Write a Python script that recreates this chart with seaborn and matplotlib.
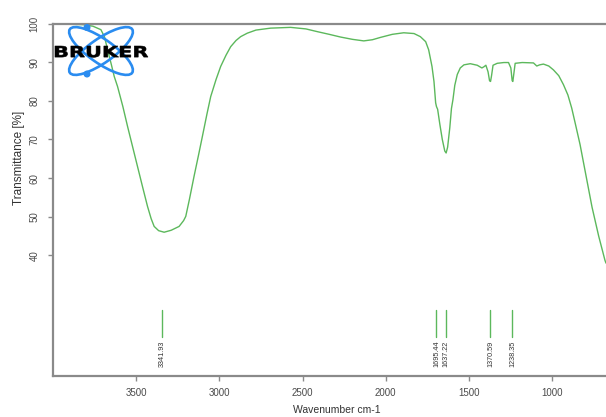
import numpy as np
import pandas as pd
import seaborn as sns
import matplotlib
matplotlib.use("Agg")
import matplotlib.pyplot as plt
from matplotlib.patches import Ellipse, Circle, PathPatch
from matplotlib.transforms import IdentityTransform, Affine2D
from matplotlib.textpath import TextPath
from matplotlib.font_manager import FontProperties

# ---- data ----
wavenumber = [4000, 3900, 3820, 3760, 3712, 3690, 3672, 3650, 3632, 3612, 3580, 3552,
              3522, 3492, 3462, 3432, 3410, 3392, 3365, 3332, 3290, 3242, 3215, 3202,
              3180, 3152, 3125, 3102, 3075, 3052, 3020, 2992, 2960, 2932, 2900, 2872,
              2832, 2780, 2692, 2572, 2480, 2412, 2340, 2272, 2200, 2132, 2080, 2032,
              1960, 1892, 1830, 1792, 1760, 1742, 1722, 1710, 1700, 1695, 1688, 1675,
              1660, 1645, 1637, 1628, 1615, 1605, 1596, 1585, 1570, 1552, 1530, 1492,
              1450, 1422, 1410, 1398, 1385, 1376, 1370, 1364, 1355, 1330, 1290, 1262,
              1248, 1240, 1236, 1230, 1222, 1180, 1112, 1092, 1075, 1052, 1020, 992,
              960, 932, 905, 882, 860, 832, 800, 760, 720, 682, 676]
transmittance = [99.8, 99.8, 99.7, 99.3, 98.4, 96.5, 93.2, 89.5, 86.3, 83.7, 78.5, 73.4,
                 68.2, 63.0, 57.8, 52.7, 49.5, 47.5, 46.4, 46.0, 46.5, 47.5, 49.0, 50.1,
                 54.5, 60.5, 66.0, 70.8, 76.5, 81.1, 85.5, 88.9, 91.8, 94.0, 95.6, 96.6,
                 97.5, 98.3, 98.8, 99.0, 98.6, 97.9, 97.2, 96.5, 95.9, 95.5, 95.8, 96.4,
                 97.2, 97.6, 97.4, 96.6, 95.3, 93.2, 88.9, 85.0, 79.5, 78.5, 77.8, 74.0,
                 70.0, 67.0, 66.5, 68.0, 73.0, 78.0, 80.3, 84.0, 86.8, 88.5, 89.3, 89.6,
                 89.2, 88.5, 88.8, 89.2, 87.5, 85.2, 85.0, 86.5, 89.2, 89.7, 89.9, 89.9,
                 88.5, 85.2, 85.0, 87.0, 89.7, 89.9, 89.8, 89.0, 89.3, 89.5, 89.0, 88.0,
                 86.5, 84.2, 81.5, 78.1, 74.0, 68.7, 61.5, 52.5, 45.0, 38.7, 38.0]
peak_positions = [3341.93, 1695.44, 1637.22, 1370.59, 1238.35]
peak_labels = ["3341.93", "1695.44", "1637.22", "1370.59", "1238.35"]
x_ticks = [3500, 3000, 2500, 2000, 1500, 1000]
y_ticks = [40, 50, 60, 70, 80, 90, 100]

df = pd.DataFrame({"Wavenumber": wavenumber, "Transmittance": transmittance})

sns.set_style("white")
plt.rcParams["font.family"] = ["Liberation Sans", "DejaVu Sans"]

W, H = 606, 417
fig = plt.figure(figsize=(W / 100, H / 100), dpi=100)
ax = fig.add_axes([53 / W, 41 / H, 553 / W, (376 - 23.5) / H])

green = "#5cb85c"
sns.lineplot(data=df, x="Wavenumber", y="Transmittance", ax=ax, color=green,
             linewidth=1.0, sort=False, estimator=None)

# peak markers
for p, lab in zip(peak_positions, peak_labels):
    ax.plot([p, p], [18.8, 25.8], color=green, linewidth=1.0)
    ax.text(p, 17.9, lab, rotation=90, ha="center", va="top", fontsize=5.2, color="#333333")

ax.set_xlim(4000, 676)
ax.set_ylim(8.8, 100)
ax.set_xticks(x_ticks)
ax.set_yticks(y_ticks)
ax.set_xticklabels([str(t) for t in x_ticks])
ax.set_yticklabels([str(t) for t in y_ticks], rotation=90, va="center")

spine_c = "#8a8a8a"
for s in ["left", "bottom", "top"]:
    ax.spines[s].set_color(spine_c)
    ax.spines[s].set_linewidth(1.6)
ax.spines["right"].set_visible(False)

ax.tick_params(axis="both", which="major", direction="out", length=3.5, width=1.0,
               color=spine_c, labelsize=7, labelcolor="#4a4a4a")
ax.tick_params(axis="y", pad=6)
ax.tick_params(axis="x", pad=5)
ax.tick_params(left=True, bottom=True)

ax.set_xlabel("Wavenumber cm-1", fontsize=7.5, color="#333333")
ax.set_ylabel("Transmittance [%]", fontsize=8.5, color="#333333")
ax.xaxis.set_label_coords((337 - 53) / 553, -(405 - 376) / 352.5)
ax.yaxis.set_label_coords((25 - 53) / 553, (376 - 158) / 352.5)

# ---- BRUKER logo (drawn in pixel coordinates) ----
ident = IdentityTransform()
blue = "#2a8cf0"
cx, cy = 101, H - 51
for ang in (35, -35):
    e = Ellipse((cx, cy), 76, 24, angle=ang, fill=False, edgecolor=blue,
                linewidth=1.9, transform=ident, zorder=10)
    fig.add_artist(e)
for (px, py) in [(87, 27.5), (87, 74)]:
    fig.add_artist(Circle((px, H - py), 2.8, color=blue, transform=ident, zorder=11))

tp = TextPath((0, 0), "BRUKER", size=20,
              prop=FontProperties(family="DejaVu Sans", weight="bold"))
ext = tp.get_extents()
x0, x1, y0, y1 = 55, 148, H - 57.3, H - 46
tr = (Affine2D().translate(-ext.x0, -ext.y0)
      .scale((x1 - x0) / ext.width, (y1 - y0) / ext.height)
      .translate(x0, y0))
fig.add_artist(PathPatch(tr.transform_path(tp), facecolor="black", edgecolor="black",
                         linewidth=0.4, transform=ident, zorder=12))

fig.savefig("out.png", dpi=100)
